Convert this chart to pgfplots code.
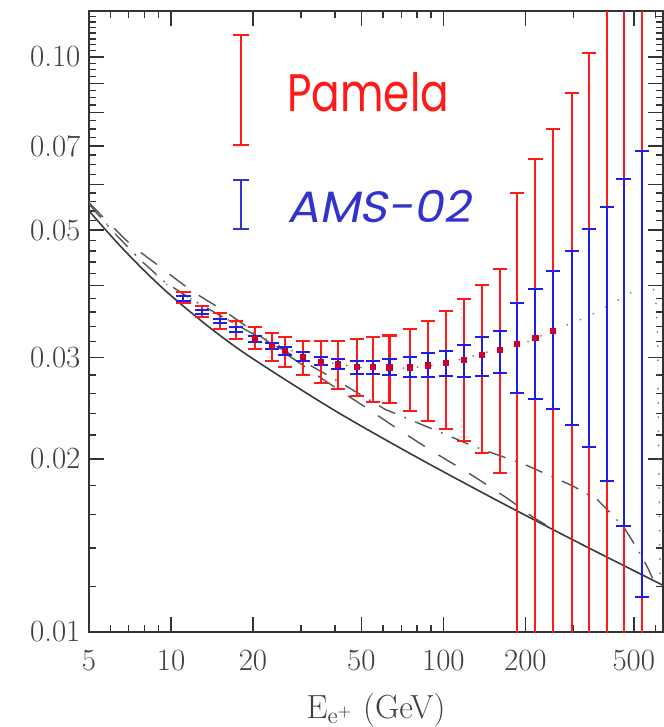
\documentclass[border=0pt]{standalone}
\usepackage{fontspec}
\usepackage{pgfplots}
\usepackage{pgfplotstable}
\pgfplotsset{compat=1.18}
\usetikzlibrary{calc}

\newfontfamily\legfont{Poppins}
\newfontfamily\legfontsl{Poppins}[FakeSlant=0.18]

\definecolor{pamred}{RGB}{255,25,25}
\definecolor{amsblue}{RGB}{30,30,235}
\definecolor{ctrred}{RGB}{205,0,45}
\definecolor{txtblue}{RGB}{50,50,205}
\definecolor{curve}{RGB}{85,85,85}

% energy, centre, Pamela low/high, AMS-02 low/high
\pgfplotstableread{
E     c       rl      rh      bl      bh
11.1  0.03804 0.03729 0.03907 0.03768 0.03846
13.0  0.03597 0.03534 0.03694 0.03573 0.03631
15.1  0.03474 0.03365 0.03584 0.03443 0.03503
17.3  0.03360 0.03233 0.03474 0.03328 0.03396
20.3  0.03237 0.03102 0.03388 0.03198 0.03272
23.5  0.03144 0.02960 0.03315 0.03102 0.03185
26.2  0.03085 0.02886 0.03254 0.03032 0.03127
30.5  0.03012 0.02799 0.03211 0.02960 0.03065
35.5  0.02952 0.02714 0.03211 0.02913 0.03004
41.0  0.02921 0.02643 0.03211 0.02868 0.02980
48.1  0.02893 0.02576 0.03228 0.02811 0.02960
55.1  0.02893 0.02515 0.03254 0.02811 0.02960
63.4  0.02886 0.02499 0.03279 0.02796 0.02982
75.3  0.02886 0.02423 0.03360 0.02773 0.03004
87.7  0.02909 0.02328 0.03474 0.02773 0.03053
102.1 0.02934 0.02252 0.03616 0.02791 0.03081
118.9 0.02972 0.02148 0.03795 0.02773 0.03152
138.5 0.03032 0.02050 0.04013 0.02791 0.03254
161.2 0.03094 0.01892 0.04280 0.02818 0.03338
186   0.03165 0.005   0.05808 0.02601 0.03729
217.5 0.03243 0.005   0.06646 0.02539 0.03945
253   0.03334 0.005   0.07493 0.02439 0.04246
296   0.0346  0.005   0.08649 0.02291 0.04598
342   0.0355  0.005   0.1016  0.02095 0.05016
398   0.0369  0.005   0.2     0.01831 0.05479
459   0.0380  0.005   0.2     0.01531 0.06135
535   0.0400  0.005   0.2     0.01149 0.06864
}\data

\pgfplotstableread{
E V
5 0.0540
6.29 0.04775
7.92 0.04265
9.98 0.03849
14.1 0.03364
19.9 0.02991
39.7 0.02431
79.2 0.02018
158 0.01692
315 0.01428
644 0.01204
}\solid

\pgfplotstableread{
E V
5 0.0558
6.95 0.0477
9.03 0.0433
11.94 0.0392
15.9 0.0360
20.3 0.0332
25 0.0310
30.5 0.0291
38.3 0.0270
52.4 0.0245
70.4 0.0223
94.6 0.0204
127 0.01875
171 0.0171
213 0.01585
260 0.0150
}\ldash

\pgfplotstableread{
E V
5 0.0555
6.05 0.0500
7.7 0.0444
9.5 0.0406
12 0.0378
16 0.0350
20 0.0330
25 0.0312
30 0.0297
40 0.0275
61 0.0244
89.2 0.02264
128.3 0.02106
200.8 0.01952
298.6 0.01795
369 0.01696
401 0.0163
460 0.0152
513 0.0140
563 0.01292
600 0.0121
}\ddash

\pgfplotstableread{
E V
5 0.0560
6.05 0.0500
7.7 0.0444
9.5 0.0404
12 0.0378
16 0.0350
20 0.0332
25 0.0315
30 0.0304
35.5 0.0297
41 0.0292
48 0.0289
63 0.0287
75 0.0288
88 0.0290
102 0.0294
119 0.0299
138.5 0.0305
161 0.0311
186 0.0316
202.5 0.03194
260.9 0.03365
336 0.0353
401 0.0369
500 0.03918
553 0.04045
590 0.0395
602 0.0378
607 0.0351
612 0.0328
614 0.0253
620 0.0170
625 0.0123
}\dotted

\begin{document}
\begin{tikzpicture}
\begin{axis}[
    xmode=log, ymode=log,
    scale only axis,
    width=287bp, height=310.5bp,
    xmin=5, xmax=640, ymin=0.01, ymax=0.1202,
    xtick={5,10,20,50,100,200,500},
    xticklabels={5,10,20,50,100,200,500},
    minor xtick={6,7,8,9,30,40,60,70,80,90,300,400,600},
    ytick={0.01,0.02,0.03,0.04,0.05,0.06,0.07,0.08,0.09,0.1},
    yticklabels={0.01,0.02,0.03,,0.05,,0.07,,,0.10},
    minor ytick={0.012,0.014,0.016,0.018,0.022,0.024,0.026,0.028,
        0.032,0.034,0.036,0.038,0.042,0.044,0.046,0.048,
        0.052,0.054,0.056,0.058,0.0625,0.065,0.0675,0.0725,0.075,0.0775,
        0.0825,0.085,0.0875,0.0925,0.095,0.0975,0.1025,0.105,0.1075,
        0.11,0.1125,0.115,0.1175},
    major tick length=7.5bp, minor tick length=3.5bp,
    tick style={black!80, line width=0.7bp},
    axis line style={black!80, line width=0.9bp},
    ticklabel style={font=\fontsize{15.5}{18}\selectfont, text=black!75},
    xticklabel style={anchor=base, yshift=-19bp},
    yticklabel style={anchor=east, xshift=-0.8bp},
    xlabel={$\mathrm{E}_{\mathrm{e}^+}$ (GeV)},
    xlabel style={font=\fontsize{16.8}{20}\selectfont, text=black!75,
        at={(axis description cs:0.5,-0.1385)}, anchor=base},
]
% model curves
\addplot[curve!70!black, line width=0.8bp, smooth] table[x=E, y=V] {\solid};
\addplot[curve, line width=0.7bp, smooth, dash pattern=on 10bp off 8bp] table[x=E, y=V] {\ldash};
\addplot[curve, line width=0.7bp, dash pattern=on 9bp off 5bp on 0.8bp off 5bp] table[x=E, y=V] {\ddash};
\addplot[curve!80, line width=0.9bp, line cap=round, dash pattern=on 0.1bp off 7bp] table[x=E, y=V] {\dotted};

% Pamela
\addplot[draw=none, mark=none,
    error bars/.cd, y dir=both, y explicit,
    error bar style={pamred, line width=1.1bp},
    error mark options={pamred, line width=1.1bp, mark size=3.6bp, rotate=90}]
    table[x=E, y=c, y error plus expr=\thisrow{rh}-\thisrow{c},
          y error minus expr=\thisrow{c}-\thisrow{rl}] {\data};
% centres
\addplot[only marks, mark=square*, mark size=1.3bp, ctrred,
    skip coords between index={0}{4},
    skip coords between index={22}{27}] table[x=E, y=c] {\data};
% AMS-02
\addplot[draw=none, mark=none,
    error bars/.cd, y dir=both, y explicit,
    error bar style={amsblue, line width=1.1bp},
    error mark options={amsblue, line width=1.1bp, mark size=3.6bp, rotate=90}]
    table[x=E, y=c, y error plus expr=\thisrow{bh}-\thisrow{c},
          y error minus expr=\thisrow{c}-\thisrow{bl}] {\data};

% legend
\draw[pamred, line width=1bp]
    (axis description cs:0.2647,0.7842) -- (axis description cs:0.2647,0.9614)
    ([xshift=-4bp]axis description cs:0.2647,0.7842) -- ([xshift=4bp]axis description cs:0.2647,0.7842)
    ([xshift=-4bp]axis description cs:0.2647,0.9614) -- ([xshift=4bp]axis description cs:0.2647,0.9614);
\draw[txtblue, line width=1bp]
    (axis description cs:0.2647,0.649) -- (axis description cs:0.2647,0.7279)
    ([xshift=-4bp]axis description cs:0.2647,0.649) -- ([xshift=4bp]axis description cs:0.2647,0.649)
    ([xshift=-4bp]axis description cs:0.2647,0.7279) -- ([xshift=4bp]axis description cs:0.2647,0.7279);
\node[anchor=base west, inner sep=0, text=pamred]
    at (axis description cs:0.3448,0.8374)
    {\scalebox{0.8}[1]{\legfont\fontsize{26.5}{30}\selectfont Pamela}};
\node[anchor=base west, inner sep=0, text=txtblue]
    at (axis description cs:0.3448,0.6602)
    {\scalebox{1.08}[1]{\legfontsl\fontsize{22}{26}\selectfont AMS-02}};

\coordinate (SW) at (rel axis cs:0,0);
\coordinate (NE) at (rel axis cs:1,1);
\end{axis}
\pgfresetboundingbox
\path ($(SW)+(-44.5bp,-47.5bp)$) rectangle ($(NE)+(0.4bp,5.5bp)$);
\end{tikzpicture}
\end{document}
